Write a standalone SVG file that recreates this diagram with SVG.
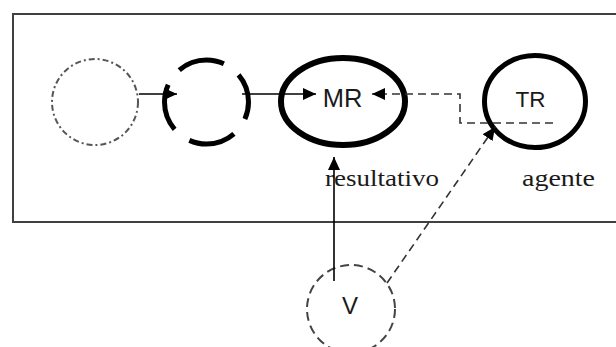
<svg xmlns="http://www.w3.org/2000/svg" width="616" height="347" viewBox="0 0 616 347">
<style>
.lbl{font-family:"Liberation Sans",Arial,sans-serif;fill:#1a1a1a;text-anchor:middle}
.srf{font-family:"Liberation Serif","Times New Roman",serif;fill:#1a1a1a;font-size:24px}
.solid{stroke:#000;stroke-width:1.6;fill:none}
.dash{stroke:#333;stroke-width:1.6;fill:none;stroke-dasharray:8 5}
</style>
<defs>
<marker id="ah" markerUnits="userSpaceOnUse" markerWidth="14" markerHeight="12" refX="13" refY="6" orient="auto">
<path d="M0,0 L13,6 L0,12 Z" fill="#000"/>
</marker>
</defs>
<g id="frame">
<path d="M618,14 H13 V222 H618" fill="none" stroke="#404040" stroke-width="2"/>
</g>
<g id="n0">
<circle cx="95" cy="102" r="43" fill="none" stroke="#555" stroke-width="2" stroke-dasharray="6 3 2 3"/>
</g>
<g id="n1">
<circle cx="206.5" cy="102" r="42" fill="none" stroke="#000" stroke-width="5" stroke-dasharray="47.5 18.5" stroke-dashoffset="30"/>
</g>
<g id="MR">
<ellipse cx="343" cy="101.5" rx="62" ry="43.5" fill="none" stroke="#000" stroke-width="6"/>
<text class="lbl" x="342.5" y="107" font-size="25.5">MR</text>
</g>
<g id="TR">
<ellipse cx="535" cy="101.5" rx="50.5" ry="46" fill="none" stroke="#000" stroke-width="5"/>
<text class="lbl" x="530.5" y="107" font-size="22.5">TR</text>
</g>
<g id="V">
<circle cx="351" cy="309" r="44" fill="none" stroke="#444" stroke-width="2" stroke-dasharray="9 5"/>
<text class="lbl" x="350" y="314" font-size="24">V</text>
</g>
<g id="labels">
<text class="srf" x="325" y="186" textLength="114" lengthAdjust="spacingAndGlyphs">resultativo</text>
<text class="srf" x="522" y="186" textLength="73" lengthAdjust="spacingAndGlyphs">agente</text>
</g>
<g id="connectors">
<line class="solid" x1="139" y1="94" x2="177" y2="94" marker-end="url(#ah)"/>
<line class="solid" x1="242" y1="94" x2="316" y2="94" marker-end="url(#ah)"/>
<path class="dash" d="M553,123 H460 V94 H372" marker-end="url(#ah)"/>
<line class="solid" x1="334" y1="281" x2="334" y2="157" marker-end="url(#ah)"/>
<line class="dash" x1="387" y1="283" x2="495" y2="127" marker-end="url(#ah)"/>
</g>
</svg>
